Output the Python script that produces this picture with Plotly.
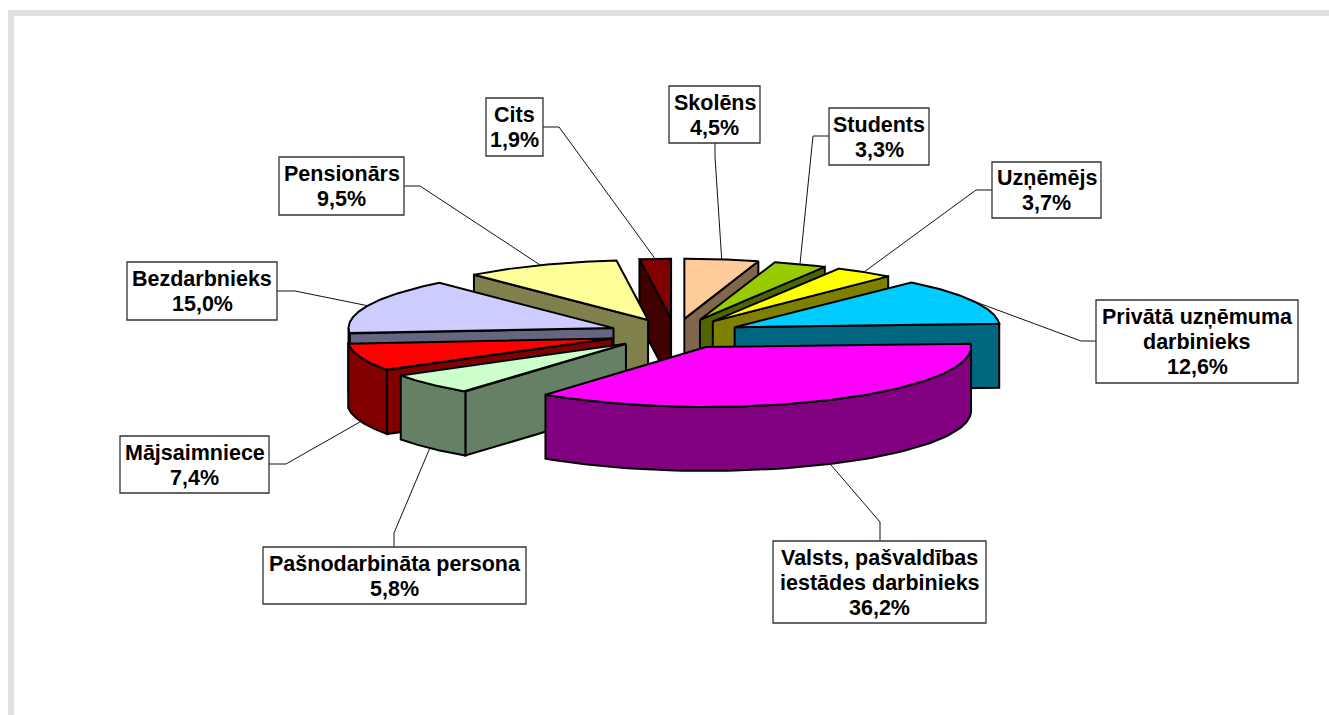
import numpy as np
import plotly.graph_objects as go

# Data, clockwise from 12 o'clock
names = ["Skolēns", "Students", "Uzņēmējs",
         "Privātā uzņēmuma<br>darbinieks",
         "Valsts, pašvaldības<br>iestādes darbinieks",
         "Pašnodarbināta persona", "Mājsaimniece", "Bezdarbnieks",
         "Pensionārs", "Cits"]
values = [4.5, 3.3, 3.7, 12.6, 36.2, 5.8, 7.4, 15.0, 9.5, 1.9]
top_colors = ["#FFCC99", "#99CC00", "#FFFF00", "#00CCFF", "#FF00FF",
              "#CCFFCC", "#FF0000", "#CCCCFF", "#FFFF99", "#800000"]
side_colors = ["#80664D", "#4D6600", "#808000", "#006680", "#800080",
               "#668066", "#800000", "#666680", "#80804D", "#400000"]
# order in which the 3D slices are painted (back to front)
paint_order = [9, 0, 1, 2, 3, 8, 7, 6, 5, 4]

# Pie geometry in pixel axes
CX, CY, RX, RY, DEPTH, EXPLODE = 675.0, 333.7, 265.0, 60.0, 64.0, 0.25

# Label boxes: left, top, right, bottom; leader: box anchor, elbow
boxes = [(669, 86, 760, 143), (829, 108, 929, 165), (992, 162, 1101, 218),
         (1096, 300, 1298, 383), (773, 541, 986, 623), (263, 547, 526, 604),
         (120, 436, 269, 493), (127, 262, 277, 320), (279, 157, 404, 215),
         (486, 98, 543, 156)]
anchors = [(715, 143), (829, 136), (992, 190), (1096, 341), (880, 541),
           (394, 547), (269, 464), (277, 291), (404, 186), (543, 127)]
elbows = [(715, 157), (813, 136), (976, 190), (1081, 341), (880, 522),
          (394, 533), (286, 464), (295, 291), (420, 186), (559, 127)]

total = sum(values)
edges = np.concatenate([[0], np.cumsum(values)]) / total * 2 * np.pi


def apex_of(i):
    mid = (edges[i] + edges[i + 1]) / 2
    return CX + EXPLODE * RX * np.sin(mid), CY - EXPLODE * RY * np.cos(mid)


def rim(i, theta):
    ax, ay = apex_of(i)
    return ax + RX * np.sin(theta), ay - RY * np.cos(theta)


fig = go.Figure()


def poly(xs, ys, color, name):
    fig.add_trace(go.Scatter(
        x=list(xs) + [xs[0]], y=list(ys) + [ys[0]], mode="lines", fill="toself",
        fillcolor=color, line=dict(color="black", width=2), name=name,
        hoverinfo="name", showlegend=False))


for i in paint_order:
    a, b = edges[i], edges[i + 1]
    ax, ay = apex_of(i)
    label = names[i].replace("<br>", " ")
    # cut faces
    for theta, visible in ((a, np.sin(a) < 0), (b, np.sin(b) > 0)):
        if visible:
            ex, ey = rim(i, theta)
            poly([ax, ex, ex, ax], [ay, ey, ey + DEPTH, ay + DEPTH],
                 side_colors[i], label)
    # outer wall
    lo, hi = max(a, np.pi / 2), min(b, 3 * np.pi / 2)
    if lo < hi:
        t = np.linspace(lo, hi, 80)
        wx, wy = rim(i, t)
        poly(np.r_[wx, wx[::-1]], np.r_[wy, wy[::-1] + DEPTH],
             side_colors[i], label)
    # top face
    t = np.linspace(a, b, 120)
    tx, ty = rim(i, t)
    poly(np.r_[ax, tx], np.r_[ay, ty], top_colors[i], label)

# Leader lines, ending at the rim at each slice's middle angle
for i in range(len(values)):
    mid = (edges[i] + edges[i + 1]) / 2
    ex, ey = rim(i, mid)
    if np.cos(mid) < 0:
        ey += DEPTH
    fig.add_trace(go.Scatter(
        x=[anchors[i][0], elbows[i][0], ex], y=[anchors[i][1], elbows[i][1], ey],
        mode="lines", line=dict(color="#111111", width=1),
        hoverinfo="skip", showlegend=False))

shapes = [
    dict(type="rect", x0=8, x1=1329, y0=10, y1=16, fillcolor="#E0E0E0", line_width=0, layer="below"),
    dict(type="rect", x0=8, x1=14, y0=10, y1=715, fillcolor="#E0E0E0", line_width=0, layer="below"),
]
annotations = []
LINE = 25
for i, (l, t, r, bt) in enumerate(boxes):
    shapes.append(dict(type="rect", x0=l, x1=r, y0=t, y1=bt, fillcolor="white",
                       line=dict(color="#333333", width=1.3), layer="above"))
    pct = f"{values[i]:.1f}%".replace(".", ",")
    lines = names[i].split("<br>") + [pct]
    for j, txt in enumerate(lines):
        annotations.append(dict(
            x=(l + r) / 2, y=(t + bt) / 2 + (j - (len(lines) - 1) / 2) * LINE + 0.5,
            text=txt, showarrow=False, xanchor="center", yanchor="middle",
            font=dict(family="Liberation Sans, Arial, sans-serif", size=21.5,
                      color="black", weight=700)))

fig.update_layout(
    width=1329, height=715, margin=dict(l=0, r=0, t=0, b=0),
    paper_bgcolor="white", plot_bgcolor="white", showlegend=False,
    xaxis=dict(range=[0, 1329], visible=False, fixedrange=True),
    yaxis=dict(range=[715, 0], visible=False, fixedrange=True),
    shapes=shapes, annotations=annotations)

fig.write_html("out.html", config={"displayModeBar": False},
               post_script="document.body.style.margin='0';document.body.style.overflow='hidden';")
